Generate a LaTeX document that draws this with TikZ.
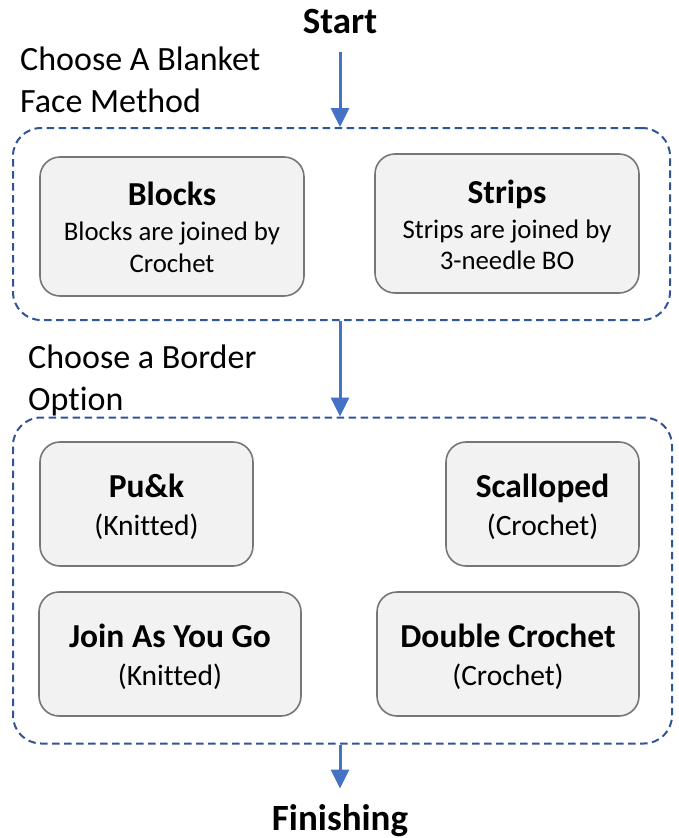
\documentclass[tikz,border=0pt]{standalone}
\usepackage{fontspec}
\setmainfont{Carlito}[Ligatures=NoCommon]
\usetikzlibrary{arrows.meta}
\definecolor{arrblue}{HTML}{4472C4}
\definecolor{dashblue}{HTML}{2F5597}
\definecolor{boxfill}{HTML}{F2F2F2}
\definecolor{boxline}{HTML}{767676}
\begin{document}
\begin{tikzpicture}[x=1pt,y=-1pt,
  group/.style={draw=dashblue, dash pattern=on 7.5pt off 4.5pt, line width=2pt, rounded corners=28pt, inner sep=0pt},
  card/.style={draw=boxline, fill=boxfill, line width=1.6pt, rounded corners=20pt, inner sep=0pt},
  arr/.style={draw=arrblue, line width=3pt, -{Triangle[length=19pt,width=18pt]}},
  bigt/.style={anchor=base, font=\bfseries\fontsize{37}{44}\selectfont},
  lab/.style={anchor=base west, inner sep=0pt, font=\fontsize{34}{41}\selectfont},
  ttl/.style={anchor=base, font=\bfseries\fontsize{33.5}{40}\selectfont},
  subA/.style={anchor=base, font=\fontsize{26.8}{32}\selectfont},
  subB/.style={anchor=base, font=\fontsize{29.5}{35}\selectfont}]
\useasboundingbox (0,0) rectangle (678,838);

% top / bottom labels
\node[bigt] (start) at (340,33) {Start};
\node[bigt] (fin) at (340,830) {Finishing};

% section labels
\node[lab] (l1a) at (20,70) {Choose A Blanket};
\node[lab] (l1b) at (20,112) {Face Method};
\node[lab] (l2a) at (28,368) {Choose a Border};
\node[lab] (l2b) at (28,410) {Option};

% groups
\node[group, minimum width=657pt, minimum height=192pt] (g1) at (341.5,224) {};
\node[group, minimum width=659pt, minimum height=326pt] (g2) at (342.5,580.5) {};

% cards of group 1
\node[card, minimum width=264pt, minimum height=139pt] (blocks) at (172,226.5) {};
\node[card, minimum width=264pt, minimum height=139pt] (strips) at (507,223.5) {};
\node[ttl] (blocksT) at (172,205) {Blocks};
\node[subA] (blocksS1) at (172,240) {Blocks are joined by};
\node[subA] (blocksS2) at (172,272) {Crochet};
\node[ttl] (stripsT) at (507,203) {Strips};
\node[subA] (stripsS1) at (507,238) {Strips are joined by};
\node[subA] (stripsS2) at (507,269) {3-needle BO};

% cards of group 2
\node[card, minimum width=213pt, minimum height=124pt] (puk) at (146.5,504) {};
\node[card, minimum width=193pt, minimum height=124pt] (scal) at (542.5,504) {};
\node[card, minimum width=262pt, minimum height=124pt] (jayg) at (170,654) {};
\node[card, minimum width=262pt, minimum height=124pt] (dbl) at (508,654) {};
\node[ttl] (pukT) at (146.5,497) {Pu\&k};
\node[subB] (pukS) at (146.5,535) {(Knitted)};
\node[ttl] (scalT) at (542.5,497) {Scalloped};
\node[subB] (scalS) at (542.5,535) {(Crochet)};
\node[ttl] (jaygT) at (170,647) {Join As You Go};
\node[subB] (jaygS) at (170,685) {(Knitted)};
\node[ttl] (dblT) at (508,647) {Double Crochet};
\node[subB] (dblS) at (508,685) {(Crochet)};

% connectors
\draw[arr] ([yshift=-15pt]start.south) -- (g1.north -| start);
\draw[arr] (g1.south -| start) -- (g2.north -| start);
\draw[arr, shorten >=12pt] (g2.south -| start) -- (fin.north);
\end{tikzpicture}
\end{document}
